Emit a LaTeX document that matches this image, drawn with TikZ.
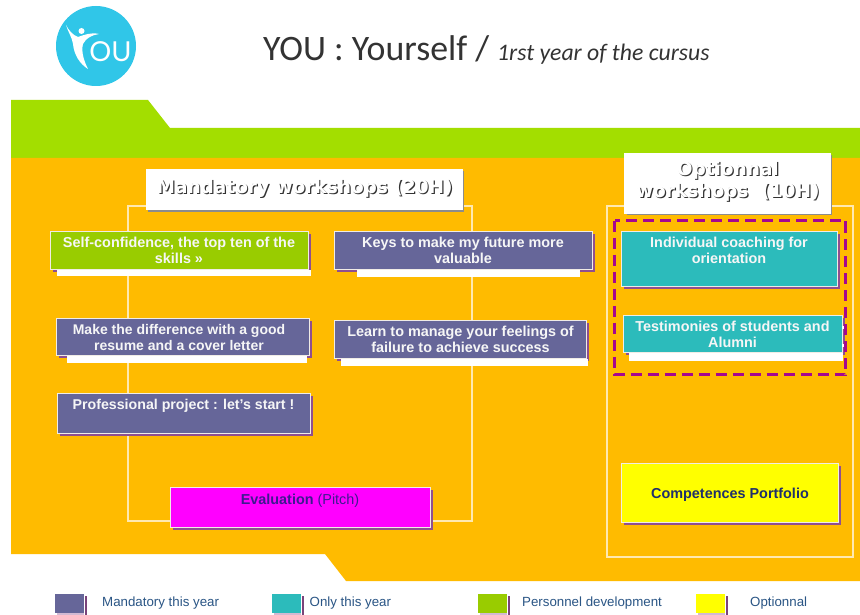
\documentclass[tikz,border=0pt]{standalone}
\usepackage{fontspec}
\setmainfont{Liberation Sans}
\newfontfamily\titlefont{Carlito}
\newfontfamily\headfont{DejaVu Sans}
\newfontfamily\logofont{Lato}
\definecolor{cgreen}{HTML}{A3DE00}
\definecolor{corange}{HTML}{FFBB00}
\definecolor{cbgreen}{HTML}{99CC00}
\definecolor{cpurple}{HTML}{666699}
\definecolor{cteal}{HTML}{2CBBBB}
\definecolor{cmag}{HTML}{FF00FF}
\definecolor{cyel}{HTML}{FFFF00}
\definecolor{cshadow}{HTML}{8F4F8F}
\definecolor{cdash}{HTML}{A5078F}
\definecolor{cframe}{HTML}{FFE9B0}
\definecolor{clogo}{HTML}{30C6E8}
\definecolor{clegend}{HTML}{2A5585}
\definecolor{cnavy}{HTML}{1F2F6B}
\definecolor{cevalt}{HTML}{3D1A90}
\definecolor{cboxedge}{HTML}{F0ECE6}
\tikzset{
  x=1pt,y=-1pt,
  frameline/.style={draw=cframe,line width=1.2pt},
  boxlabel/.style={font=\fontsize{14.4}{15.8}\selectfont\bfseries,text=white!93!gray,align=center,inner sep=0pt},
  headlabel/.style={font=\headfont\fontsize{18.5}{22}\selectfont\bfseries,text=white,align=center,inner sep=0pt},
  headshade/.style={font=\headfont\fontsize{18.5}{22}\selectfont\bfseries,text=black!80,align=center,inner sep=0pt},
  legendlabel/.style={font=\fontsize{13.3}{15}\selectfont,text=clegend,anchor=west,inner sep=0pt},
  boxshade/.style={fill=cshadow},
  bandwhite/.style={fill=white},
}
\newcommand{\wsbox}[6]{%
  \fill[boxshade] (#2+3,#3+3) rectangle (#4+3,#5+3);
  \node[draw=cboxedge,line width=1pt,fill=#6,minimum width={#4-#2},minimum height={#5-#3},inner sep=0pt,outer sep=0pt] (#1) at ({(#2+#4)/2},{(#3+#5)/2}) {};}
\newcommand{\legendbox}[6]{%
  \fill[cshadow!85!black] (#2+29.5,#3+2) rectangle (#2+32,#3+21);
  \fill[white!60!cshadow] (#2+2,#3+19) rectangle (#2+29,#3+21);
  \node[fill=#4,minimum width=28.5,minimum height=19,inner sep=0pt,outer sep=0pt] (#1) at (#2+14.25,#3+9.5) {};
  \node[legendlabel] (#1-t) at (#5,#3+9.5) {#6};}
\begin{document}
\begin{tikzpicture}
\useasboundingbox (0,0) rectangle (860,615);
\fill[white] (0,0) rectangle (860,615);
% logo
\fill[clogo] (96,46) circle (40);
\fill[white] (66,25) .. controls (69,31) and (73,35) .. (78,37) .. controls (84,35) and (91,32) .. (99,34)
  .. controls (92,35) and (86,38) .. (83,44) .. controls (81,52) and (84,61) .. (88,69)
  .. controls (80,64) and (74,55) .. (73,44) .. controls (72,37) and (68,32) .. (66,25) -- cycle;
\fill[white] (81.5,31) circle (3);
\node[font=\logofont\fontsize{27.5}{27.5}\selectfont,text=white,inner sep=0pt] (logotext) at (110.5,51.7) {OU};
% title
\node[anchor=base west,inner sep=0pt,font=\titlefont\fontsize{35.8}{35.8}\selectfont,text=black!80] (title) at (263,60.5)
  {YOU : Yourself / {\fontsize{23.7}{23.7}\selectfont\itshape 1rst year of the cursus}};
% bands
\fill[cgreen] (11,100) -- (148,100) -- (170,128) -- (860,128) -- (860,158) -- (11,158) -- cycle;
\fill[corange] (11,158) -- (860,158) -- (860,581) -- (346,581) -- (325,554) -- (11,554) -- cycle;
% frames
\draw[frameline] (128,206) rectangle (472,521);
\draw[frameline] (607,206) rectangle (853,557);
% headers
\fill[black!45] (148,171) rectangle (464,212);
\node[fill=white,minimum width=317,minimum height=41,inner sep=0pt] (hmand) at (304.5,190) {};
\node[headshade] (hmand-s) at (305.8,189.5) {Mandatory workshops (20H)};
\node[headlabel] (hmand-t) at (304.6,188.3) {Mandatory workshops (20H)};
\fill[black!45] (627,155) rectangle (832,215);
\node[fill=white,minimum width=207,minimum height=60,inner sep=0pt] (hopt) at (727.5,183.5) {};
\node[headshade] (hopt-s) at (729,182.3) {Optionnal\\workshops\ \ (10H)};
\node[headlabel] (hopt-t) at (727.8,181.1) {Optionnal\\workshops\ \ (10H)};
% boxes
\wsbox{self}{50}{231}{308}{269}{cbgreen}
\wsbox{keys}{334}{231}{592}{269}{cpurple}
\wsbox{resume}{56}{318}{309}{355}{cpurple}
\wsbox{learn}{334}{320}{586}{358}{cpurple}
\wsbox{proj}{57}{393}{310}{433}{cpurple}
\wsbox{eval}{170}{487}{430}{527}{cmag}
\wsbox{coach}{621}{231}{837}{286}{cteal}
\wsbox{testi}{623}{315}{842}{352}{cteal}
\wsbox{port}{621}{463}{838}{522}{cyel}
% white bands beneath boxes
\fill[bandwhite] (57,269.5) rectangle (311,276);
\fill[bandwhite] (357,269.5) rectangle (580,277);
\fill[bandwhite] (67,355.5) rectangle (307,363);
\fill[bandwhite] (341,358.5) rectangle (588,366);
\fill[bandwhite] (629,352.5) rectangle (843,361);
\fill[white] (842,326) rectangle (846,329);
\fill[white] (842,344) rectangle (846,347);
% box labels
\node[boxlabel] (self-t) at (179,250.5) {Self-confidence, the top ten of the\\skills »};
\node[boxlabel] (keys-t) at (463,250.5) {Keys to make my future more\\valuable};
\node[boxlabel,font=\fontsize{14}{15.8}\selectfont\bfseries] (resume-t) at (179,337.5) {Make the difference with a good\\resume and a cover letter};
\node[boxlabel] (learn-t) at (460.5,339.5) {Learn to manage your feelings of\\failure to achieve success};
\node[boxlabel,font=\fontsize{14.2}{15.8}\selectfont\bfseries] (proj-t) at (183.5,406) {Professional project : let's start !};
\node[boxlabel,text=cevalt,font=\fontsize{14.4}{15.8}\selectfont] (eval-t) at (300,501) {\textbf{Evaluation} (Pitch)};
\node[boxlabel] (coach-t) at (729,250.5) {Individual coaching for\\orientation};
\node[boxlabel] (testi-t) at (732.5,334) {Testimonies of students and\\Alumni};
\node[boxlabel,text=cnavy] (port-t) at (730,495) {Competences Portfolio};
% dashed selection
\draw[cdash,line width=3pt,dash pattern=on 11pt off 6pt] (614.5,220.5) rectangle (845.5,374.5);
% legend
\legendbox{mand}{55}{594}{cpurple}{102}{Mandatory this year}
\legendbox{only}{272}{594}{cteal}{309.5}{Only this year}
\legendbox{pers}{478}{594}{cbgreen}{522}{Personnel development}
\legendbox{opt}{696}{594}{cyel}{750}{Optionnal}
\end{tikzpicture}
\end{document}
